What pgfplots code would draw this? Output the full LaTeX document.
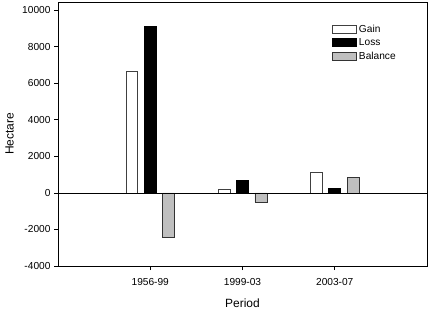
\documentclass[border=0pt]{standalone}
\usepackage{pgfplots}
\pgfplotsset{compat=1.18}
\usepackage{fontspec}
\setmainfont{Liberation Sans}
\begin{document}
\begin{tikzpicture}
\begin{axis}[
  name=ax,
  at={(0,0)}, anchor=south west,
  scale only axis,
  width=369bp, height=264bp,
  xmin=-1, xmax=3,
  ymin=-4000, ymax=10450,
  xtick={0,1,2},
  xticklabels={1956-99,1999-03,2003-07},
  ytick={-4000,-2000,0,2000,4000,6000,8000,10000},
  scaled y ticks=false,
  /pgf/number format/assume math mode=true,
  /pgf/number format/1000 sep={},
  tick label style={font=\fontsize{10.2}{12}\selectfont},
  xticklabel style={yshift=-5bp},
  tick align=outside,
  major tick length=4bp,
  xtick pos=bottom, ytick pos=left,
  axis line style={line width=0.8bp},
  tick style={line width=0.8bp, black},
  xlabel={Period}, ylabel={Hectare},
  every axis y label/.style={at={(axis description cs:-0.131,0.5)}, rotate=90, anchor=center, font=\fontsize{12}{14}\selectfont},
  every axis x label/.style={at={(axis description cs:0.5,-0.14)}, anchor=center, font=\fontsize{12}{14}\selectfont},
  ybar, bar width=0.13,
  legend style={draw=none, fill=none, at={(rel axis cs:0.735,0.93)}, anchor=north west,
    font=\fontsize{10.2}{12}\selectfont, row sep=1bp,
    /tikz/every even column/.append style={column sep=4bp}},
  legend cell align=left,
  legend image code/.code={\draw[#1] (0bp,-4bp) rectangle (24bp,4bp);},
]
\addplot[draw=black!75, fill=white, line width=0.6bp, bar shift=-0.2] coordinates {(0,6670) (1,200) (2,1130)};
\addplot[draw=black, fill=black, line width=0.6bp, bar shift=0] coordinates {(0,9130) (1,690) (2,260)};
\addplot[draw=black!80, fill=black!25, line width=0.6bp, bar shift=0.2] coordinates {(0,-2440) (1,-510) (2,870)};
\legend{Gain,Loss,Balance}
\draw[line width=0.8bp] (axis cs:-1,0) -- (axis cs:3,0);
\end{axis}
\pgfresetboundingbox
\path[use as bounding box] (-58bp,-45bp) rectangle (370bp,266bp);
\end{tikzpicture}
\end{document}
